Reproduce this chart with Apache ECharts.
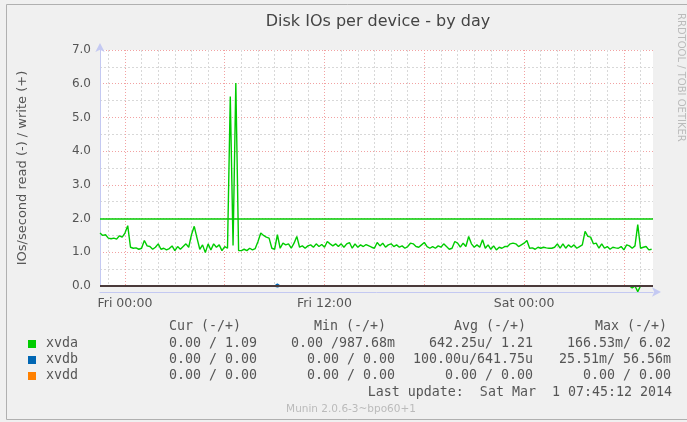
<!DOCTYPE html>
<html>
<head>
<meta charset="utf-8">
<script src="https://cdn.jsdelivr.net/npm/echarts@6/dist/echarts.min.js"></script>
<style>
  html, body { margin: 0; padding: 0; background: #fff; }
  #chart { width: 687px; height: 422px; }
</style>
</head>
<body>
<div id="chart"></div>
<script>
// time in hours relative to Fri 00:00, one sample every 10 min
const startHour = -1.5;
const stepHours = 1 / 6;
const endHour = 31.75;

// xvda writes (+)
const xvdaWrite = [
  1.57, 1.50, 1.52, 1.42, 1.40, 1.42, 1.39, 1.49, 1.45, 1.57,
  1.79, 1.15, 1.12, 1.13, 1.09, 1.12, 1.35, 1.19, 1.17, 1.09,
  1.15, 1.25, 1.09, 1.12, 1.07, 1.11, 1.19, 1.05, 1.17, 1.09,
  1.17, 1.25, 1.15, 1.52, 1.77, 1.42, 1.09, 1.22, 0.99, 1.25,
  1.07, 1.25, 1.15, 1.22, 1.05, 1.17, 1.12, 5.62, 1.20, 6.02,
  1.05, 1.05, 1.09, 1.05, 1.12, 1.07, 1.11, 1.32, 1.57, 1.50,
  1.45, 1.42, 1.12, 1.09, 1.52, 1.12, 1.27, 1.22, 1.25, 1.12,
  1.27, 1.47, 1.15, 1.19, 1.12, 1.19, 1.22, 1.15, 1.25, 1.17,
  1.23, 1.15, 1.32, 1.25, 1.19, 1.25, 1.17, 1.25, 1.15, 1.25,
  1.29, 1.12, 1.25, 1.15, 1.22, 1.17, 1.23, 1.19, 1.15, 1.12,
  1.29, 1.19, 1.27, 1.15, 1.22, 1.25, 1.17, 1.22, 1.15, 1.19,
  1.12, 1.17, 1.27, 1.25, 1.17, 1.15, 1.22, 1.29, 1.17, 1.12,
  1.17, 1.12, 1.19, 1.15, 1.25, 1.17, 1.09, 1.12, 1.32, 1.27,
  1.15, 1.27, 1.17, 1.47, 1.25, 1.15, 1.22, 1.15, 1.37, 1.12,
  1.22, 1.09, 1.19, 1.07, 1.15, 1.12, 1.17, 1.17, 1.25, 1.27,
  1.25, 1.17, 1.22, 1.27, 1.35, 1.12, 1.13, 1.09, 1.15, 1.12,
  1.15, 1.13, 1.12, 1.12, 1.15, 1.25, 1.12, 1.25, 1.12, 1.22,
  1.15, 1.22, 1.12, 1.17, 1.22, 1.62, 1.47, 1.45, 1.25, 1.27,
  1.12, 1.25, 1.12, 1.17, 1.09, 1.15, 1.13, 1.12, 1.17, 1.07,
  1.22, 1.19, 1.12, 1.19, 1.82, 1.12, 1.15, 1.17, 1.07, 1.09
];
// samples that are not zero (index: value), all others read 0
const xvdaReadNonZero = { 192: 0.06, 194: 0.1665 };
const xvdbWriteNonZero = { 64: 0.0566 };
const xvdbReadNonZero = { 64: 0.0255 };
const xvddNonZero = {};

const hruleValue = 2.0;
const timeLabels = { 0: 'Fri 00:00', 12: 'Fri 12:00', 24: 'Sat 00:00' };
const majorHours = [0, 6, 12, 18, 24, 30];

const colors = { xvda: '#00cc00', xvdb: '#0066b3', xvdd: '#ff8000' };
const legendHeader = ['Cur (-/+)', 'Min (-/+)', 'Avg (-/+)', 'Max (-/+)'];
const legendRows = [
  ['xvda', '0.00 / 1.09', '0.00 /987.68m', '642.25u/ 1.21', '166.53m/ 6.02'],
  ['xvdb', '0.00 / 0.00', '0.00 / 0.00', '100.00u/641.75u', '25.51m/ 56.56m'],
  ['xvdd', '0.00 / 0.00', '0.00 / 0.00', '0.00 / 0.00', '0.00 / 0.00']
];
const lastUpdate = 'Last update:  Sat Mar  1 07:45:12 2014';

const times = xvdaWrite.map((_, i) => startHour + i * stepHours);
const dense = (vals, sign) => times.map((t, i) => [t, sign * vals[i]]);
const sparse = (obj, sign) => times.map((t, i) => [t, sign * (obj[i] || 0)]);

const minorHours = [];
for (let h = -1; h <= 31; h++) if (h % 6 !== 0) minorHours.push(h);

const chart = echarts.init(document.getElementById('chart'));

const axisColor = '#c4c9f2';
const mono = '13.3px "DejaVu Sans Mono"';
const txt = '#555';
const colRight = [257, 395, 533, 671];
const headRight = [241, 386, 526, 667];
const rowY = [344, 360, 376];

const graphics = [
  { type: 'rect', shape: { x: 6.5, y: 4.5, width: 700, height: 415 },
    style: { fill: 'none', stroke: '#b0b0b0', lineWidth: 1 }, silent: true },
  { type: 'text', x: 378, y: 22, style: { text: 'Disk IOs per device - by day', font: '16px "DejaVu Sans"', fill: '#444', textAlign: 'center', textVerticalAlign: 'middle' } },
  { type: 'text', x: 681, y: 13, rotation: -Math.PI / 2, style: { text: 'RRDTOOL / TOBI OETIKER', font: '10px "DejaVu Sans"', fill: '#bbb', textAlign: 'left', textVerticalAlign: 'middle' } },
  { type: 'text', x: 351, y: 409, style: { text: 'Munin 2.0.6-3~bpo60+1', font: '10.5px "DejaVu Sans"', fill: '#bbb', textAlign: 'center', textVerticalAlign: 'middle' } },
  { type: 'text', x: 672, y: 393, style: { text: lastUpdate, font: mono, fill: txt, textAlign: 'right', textVerticalAlign: 'middle' } }
];
legendHeader.forEach((h, k) => {
  graphics.push({ type: 'text', x: headRight[k], y: 327, style: { text: h, font: mono, fill: txt, textAlign: 'right', textVerticalAlign: 'middle' } });
});
legendRows.forEach((row, r) => {
  graphics.push({ type: 'rect', shape: { x: 28, y: rowY[r] - 4, width: 8, height: 8 }, style: { fill: colors[row[0]] } });
  graphics.push({ type: 'text', x: 46, y: rowY[r], style: { text: row[0], font: mono, fill: txt, textAlign: 'left', textVerticalAlign: 'middle' } });
  for (let k = 1; k < row.length; k++) {
    graphics.push({ type: 'text', x: colRight[k - 1], y: rowY[r], style: { text: row[k], font: mono, fill: txt, textAlign: 'right', textVerticalAlign: 'middle' } });
  }
});

const lineSeries = (name, data, color, extra) => Object.assign({
  name: name,
  type: 'line',
  data: data,
  symbol: 'none',
  clip: false,
  animation: false,
  lineStyle: { color: color, width: 1.4 },
  itemStyle: { color: color }
}, extra || {});

const option = {
  backgroundColor: '#f0f0f0',
  animation: false,
  grid: { left: 100, top: 50, width: 553, height: 236, show: true, backgroundColor: '#fff', borderWidth: 0 },
  xAxis: [
    {
      type: 'value', min: startHour, max: endHour, offset: 6,
      axisLine: { show: true, onZero: false, symbol: ['none', 'arrow'], symbolSize: [7, 9], symbolOffset: [0, 8], lineStyle: { color: axisColor } },
      axisTick: { show: false, customValues: majorHours },
      axisLabel: { customValues: [0, 12, 24], formatter: v => timeLabels[v] || '', color: txt, fontSize: 12.5, fontFamily: 'DejaVu Sans', margin: 5 },
      splitLine: { show: true, lineStyle: { color: '#f2a2a2', type: [1, 2], width: 1 } },
      z: 3
    },
    {
      type: 'value', min: startHour, max: endHour,
      axisLine: { show: false, onZero: false },
      axisTick: { show: false, customValues: minorHours },
      axisLabel: { show: false },
      splitLine: { show: true, lineStyle: { color: '#d8d8d8', type: [2, 2], width: 1 } },
      z: 1
    }
  ],
  yAxis: {
    type: 'value', min: 0, max: 7, interval: 1,
    name: 'IOs/second read (-) / write (+)', nameLocation: 'middle', nameGap: 71,
    nameTextStyle: { fontSize: 13, color: txt, fontFamily: 'DejaVu Sans' },
    axisLine: { show: true, onZero: false, symbol: ['none', 'arrow'], symbolSize: [7, 9], symbolOffset: [0, 7], lineStyle: { color: axisColor } },
    axisTick: { show: false },
    axisLabel: { formatter: v => v.toFixed(1), color: txt, fontSize: 12, fontFamily: 'DejaVu Sans', margin: 9 },
    splitLine: { show: true, lineStyle: { color: '#f2a2a2', type: [1, 2], width: 1 } },
    minorTick: { show: false, splitNumber: 2 },
    minorSplitLine: { show: true, lineStyle: { color: '#d8d8d8', type: [2, 2], width: 1 } }
  },
  series: [
    lineSeries('xvda', dense(xvdaWrite, 1), colors.xvda, {
      markLine: { silent: true, symbol: 'none', label: { show: false }, animation: false,
        lineStyle: { color: colors.xvda, type: 'solid', width: 1.5 }, data: [{ yAxis: hruleValue }] }
    }),
    lineSeries('xvda read', sparse(xvdaReadNonZero, -1), colors.xvda),
    lineSeries('xvdb', sparse(xvdbWriteNonZero, 1), colors.xvdb),
    lineSeries('xvdb read', sparse(xvdbReadNonZero, -1), colors.xvdb),
    lineSeries('xvdd', sparse(xvddNonZero, 1), colors.xvdd, {
      z: 1,
      markLine: { silent: true, symbol: 'none', label: { show: false }, animation: false,
        lineStyle: { color: '#4a3a3a', type: 'solid', width: 2 }, data: [{ yAxis: 0 }] }
    }),
    lineSeries('xvdd read', sparse(xvddNonZero, -1), colors.xvdd, { z: 1 })
  ],
  graphic: graphics
};

chart.setOption(option);
</script>
</body>
</html>
